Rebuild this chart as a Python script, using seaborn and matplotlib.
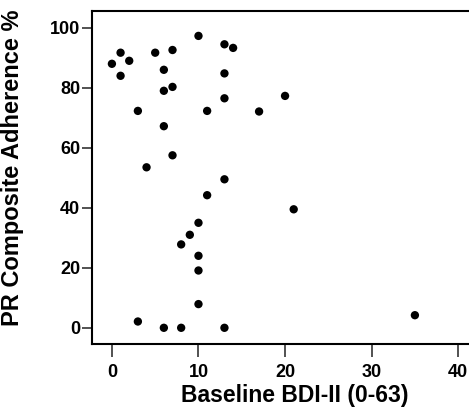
import matplotlib
matplotlib.use("Agg")
import matplotlib.pyplot as plt
import seaborn as sns
import pandas as pd

bdi = [0, 1, 1, 2, 3, 4, 5, 6, 6, 6, 7, 7, 7, 10, 11, 11, 13, 13, 13, 13, 14,
       17, 20, 21, 10, 9, 8, 10, 10, 10, 3, 6, 8, 13, 35]
adherence = [88, 91.7, 84, 89, 72.3, 53.5, 91.7, 86, 79, 67.2, 92.6, 80.3, 57.5,
             97.3, 72.3, 44.2, 94.5, 84.8, 76.5, 49.5, 93.3,
             72.1, 77.3, 39.5, 35, 31, 27.8, 24, 19.1, 7.9, 2.1, 0, 0, 0, 4.2]
x_ticks = [0, 10, 20, 30, 40]
y_ticks = [0, 20, 40, 60, 80, 100]

df = pd.DataFrame({"bdi": bdi, "adh": adherence})

sns.set_style("ticks")
plt.rcParams["font.family"] = ["Liberation Sans", "DejaVu Sans"]
plt.rcParams["text.color"] = "black"
plt.rcParams["axes.labelcolor"] = "black"
plt.rcParams["xtick.color"] = "black"
plt.rcParams["ytick.color"] = "black"

fig = plt.figure(figsize=(4.69, 4.12), dpi=100)
ax = fig.add_axes([92 / 469, (412 - 344) / 412, (475.5 - 92) / 469, (344 - 11) / 412])

sns.scatterplot(data=df, x="bdi", y="adh", ax=ax, color="black", s=36,
                edgecolor="none", linewidth=0, clip_on=False)

ax.set_xlim(-2.3, 42)
ax.set_ylim(-5.4, 105.6)
ax.set_xticks(x_ticks)
ax.set_yticks(y_ticks)
ax.set_xticklabels([str(t) for t in x_ticks], fontsize=13, fontweight="bold")
ax.set_yticklabels([str(t) for t in y_ticks], fontsize=13, fontweight="bold")

for s in ax.spines.values():
    s.set_linewidth(1.5)
    s.set_color("black")

ax.tick_params(axis="x", direction="out", length=9.5, width=1.2, color="#333333", pad=5, labelcolor="black")
ax.tick_params(axis="y", direction="out", length=7.5, width=1.2, color="#333333", pad=1, labelcolor="black")

ax.set_xlabel("Baseline BDI-II (0-63)", fontsize=16.5, fontweight="bold", color="black")
ax.set_ylabel("PR Composite Adherence %", fontsize=17, fontweight="bold", color="black")
ax.xaxis.set_label_coords(0.528, -0.12)
ax.yaxis.set_label_coords(-0.177, 0.53)

fig.savefig("out.png", dpi=100)
